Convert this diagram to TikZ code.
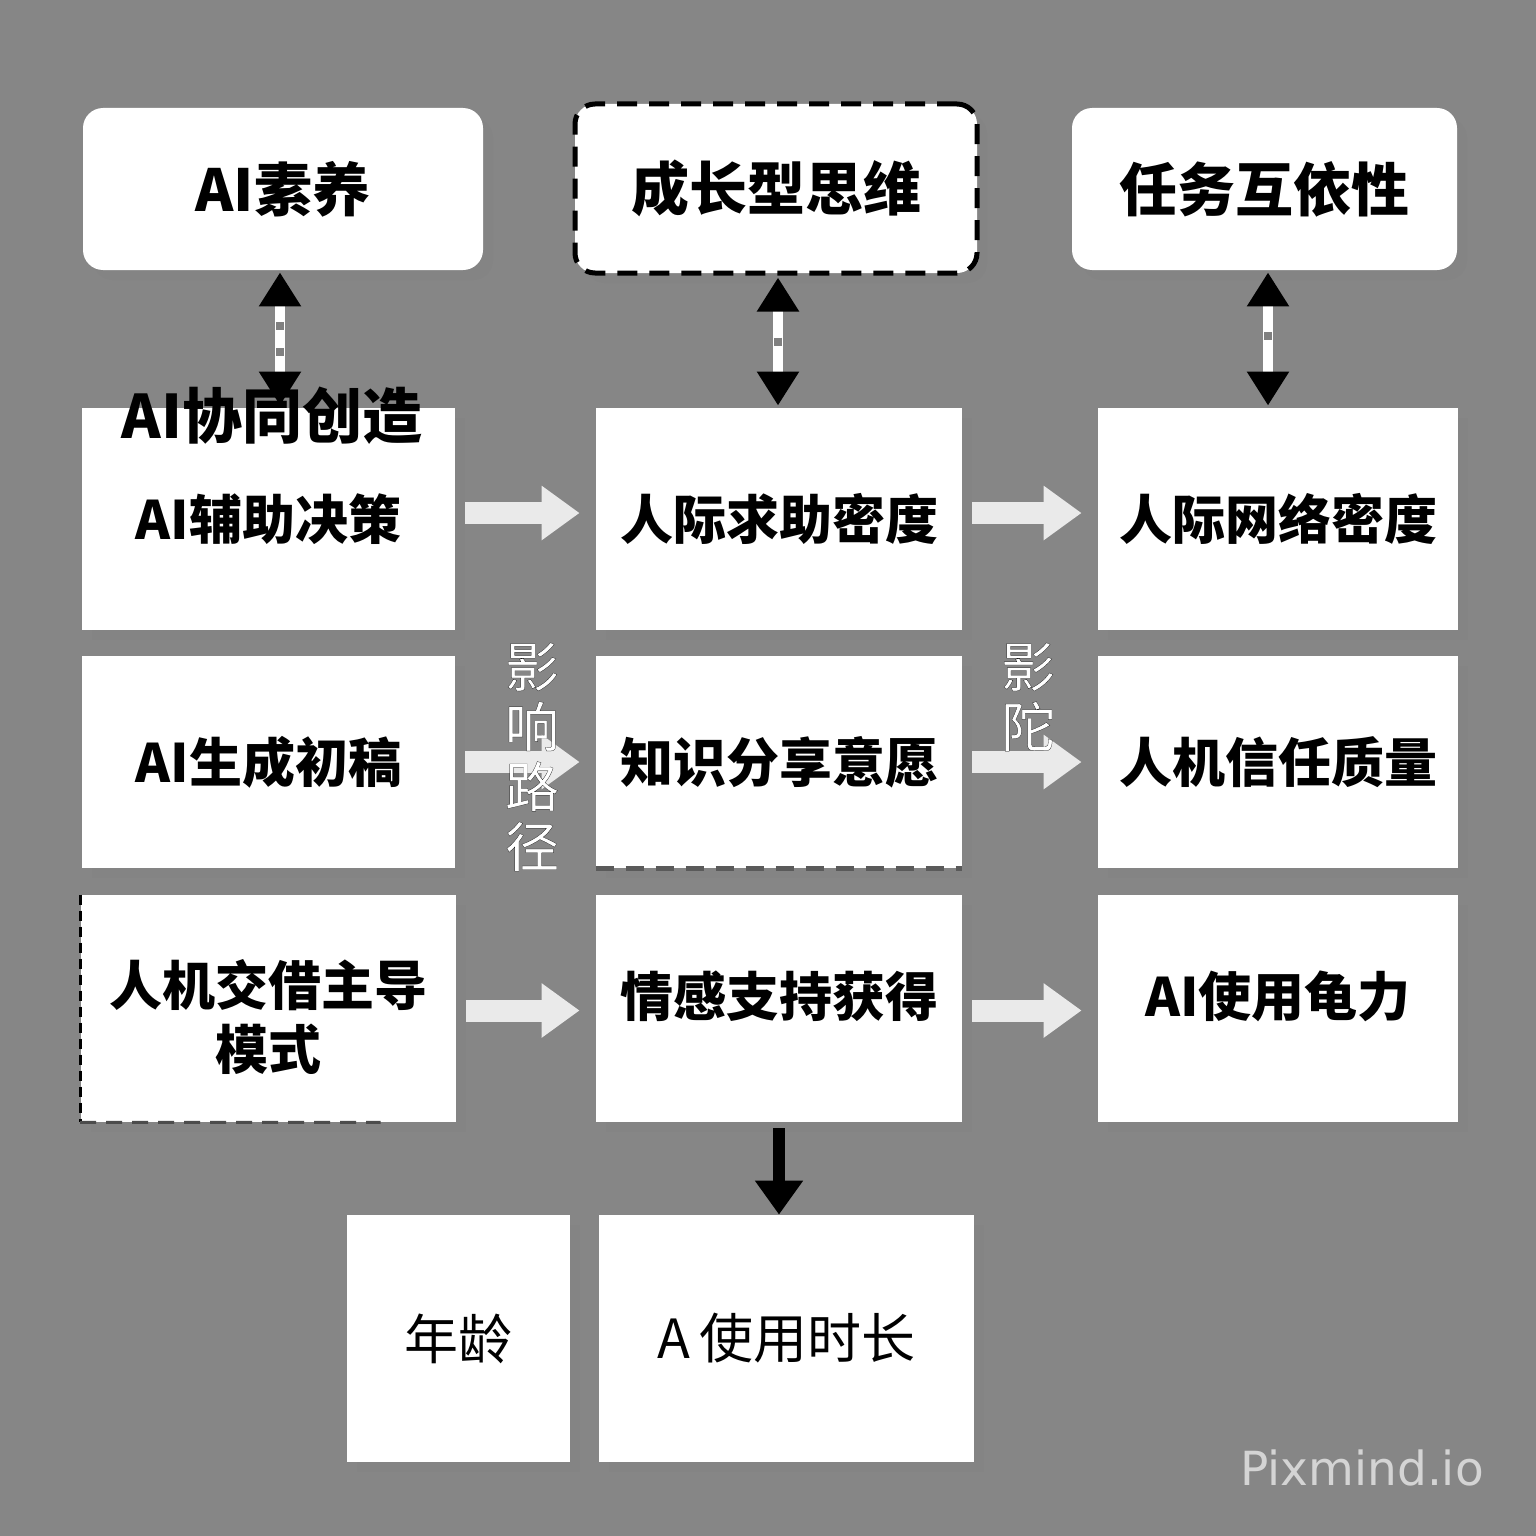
\documentclass[tikz,border=0pt]{standalone}
\usepackage{fontspec}
\setmainfont{Noto Sans CJK SC}
\newfontfamily\wmfont{DejaVu Sans}
\usetikzlibrary{arrows.meta,shadows,calc}
\definecolor{bg}{RGB}{134,134,134}
\definecolor{arr}{RGB}{234,234,234}
\definecolor{dashg}{RGB}{90,90,90}
\newcommand\outl[1]{\special{pdf:literal 2 Tr 0 G 1 g 0.1 w}#1\special{pdf:literal 0 Tr}}
\begin{document}
\begin{tikzpicture}[x=0.5pt,y=-0.5pt,
  box/.style={fill=white, inner sep=0pt, align=center,
     font=\fontsize{26.5}{31}\selectfont\bfseries,
     drop shadow={shadow xshift=5pt,shadow yshift=-5pt,opacity=0.3}},
  rbox/.style={box, rounded corners=10pt, font=\fontsize{29}{34}\selectfont\bfseries},
  plainbox/.style={box, font=\fontsize{27}{32}\selectfont},
  harr/.style={draw=arr, line width=11pt, -{Triangle[width=26pt,length=19pt,color=arr]},
     shorten <=5pt, shorten >=8pt},
  darr/.style={draw=white, line width=5pt,
     {Triangle[width=20pt,length=17pt,color=black]}-{Triangle[width=20pt,length=17pt,color=black]},
     shorten <=1pt, shorten >=1pt},
  dmark/.style={draw=gray, line width=4.2pt, dash pattern=on 4pt off 9pt, shorten <=26pt, shorten >=26pt},
  vlabel/.style={text=white, align=center, inner sep=0pt,
     font=\fontsize{27}{30}\selectfont},
]
\useasboundingbox (0,0) rectangle (1536,1536);
\fill[bg] (0,0) rectangle (1536,1536);

% top row
\node[rbox, minimum width=200pt, minimum height=81pt] (t1) at (283,189) {AI素养};
\node[rbox, minimum width=201pt, minimum height=84.5pt, draw=black, line width=2.5pt,
      dash pattern=on 10pt off 6pt] (t2) at (776,188.5) {成长型思维};
\node[rbox, minimum width=192.5pt, minimum height=81pt] (t3) at (1264.5,189) {任务互依性};

% row 2
\node[box, minimum width=186.5pt, minimum height=111pt] (b1) at (268.5,519) {AI辅助决策};
\node[box, minimum width=183pt, minimum height=111pt] (b2) at (779,519) {人际求助密度};
\node[box, minimum width=180pt, minimum height=111pt] (b3) at (1278,519) {人际网络密度};
\node[font=\fontsize{30}{34}\selectfont\bfseries, inner sep=0pt] (co) at (272,416) {AI协同创造};

% row 3
\node[box, minimum width=186.5pt, minimum height=106pt] (c1) at (268.5,762) {AI生成初稿};
\node[box, minimum width=183pt, minimum height=106pt] (c2) at (779,762) {知识分享意愿};
\node[box, minimum width=180pt, minimum height=106pt] (c3) at (1278,762) {人机信任质量};
\draw[dashg, line width=2.5pt, dash pattern=on 9pt off 6pt] (c2.south west) -- (c2.south east);

% row 4
\node[box, minimum width=187.5pt, minimum height=113.5pt] (d1) at (268,1008.5)
  {\smash{\raisebox{-14pt}{\begin{tabular}{@{}c@{}}人机交借主导\\模式\end{tabular}}}};
\node[box, minimum width=183pt, minimum height=113.5pt] (d2) at (779,1008.5) {\smash{\raisebox{-4pt}{情感支持获得}}};
\node[box, minimum width=180pt, minimum height=113.5pt] (d3) at (1278,1008.5) {\smash{\raisebox{-4pt}{AI使用龟力}}};
\draw[black, line width=1.5pt, dash pattern=on 5pt off 3pt] (d1.north west) -- (d1.south west);
\draw[black!70, line width=1.5pt, dash pattern=on 8pt off 5pt] (d1.south west) -- ($(d1.south west)!0.8!(d1.south east)$);

% row 5
\node[plainbox, minimum width=111.5pt, minimum height=123.5pt] (e1) at (458.5,1338.5) {年龄};
\node[plainbox, minimum width=187.5pt, minimum height=123.5pt] (e2) at (786.5,1338.5) {A\,使用时长};

% vertical double arrows
\draw[darr] ([xshift=-1.5pt]t1.south) -- ([xshift=-1.5pt]t1.south |- b1.north);
\draw[dmark] ([xshift=-1.5pt]t1.south) -- ([xshift=-1.5pt]t1.south |- b1.north);
\draw[darr] ([xshift=1pt]t2.south) -- ([xshift=1pt]t2.south |- b2.north);
\draw[dmark, dash pattern=on 4pt off 40pt, shorten <=31pt] ([xshift=1pt]t2.south) -- ([xshift=1pt]t2.south |- b2.north);
\draw[darr] ([xshift=1.75pt]t3.south) -- ([xshift=1.75pt]t3.south |- b3.north);
\draw[dmark, dash pattern=on 4pt off 40pt, shorten <=31pt] ([xshift=1.75pt]t3.south) -- ([xshift=1.75pt]t3.south |- b3.north);

% horizontal arrows
\draw[harr] ([yshift=3pt]b1.east) -- ([yshift=3pt]b1.east -| b2.west);
\draw[harr] ([yshift=3pt]b2.east) -- ([yshift=3pt]b2.east -| b3.west);
\draw[harr] (c1.east) -- (c1.east -| c2.west);
\draw[harr] (c2.east) -- (c2.east -| c3.west);
\draw[harr] ([yshift=-1pt]d1.east) -- ([yshift=-1pt]d1.east -| d2.west);
\draw[harr] ([yshift=-1pt]d2.east) -- ([yshift=-1pt]d2.east -| d3.west);

% down arrow
\draw[black, line width=6pt, -{Triangle[width=23pt,length=17pt]}, shorten <=3pt]
  (d2.south) -- (d2.south |- e2.north);

% vertical labels
\node[vlabel] (v1) at (532,757) {\outl{影}\\\outl{响}\\\outl{路}\\\outl{径}};
\node[vlabel] (v2) at (1028,697) {\outl{影}\\\outl{陀}};

% watermark
\node[text=black!17, font=\wmfont\fontsize{23.5}{26}\selectfont, inner sep=0pt] (wm) at (1362,1468) {Pixmind.io};
\end{tikzpicture}
\end{document}
